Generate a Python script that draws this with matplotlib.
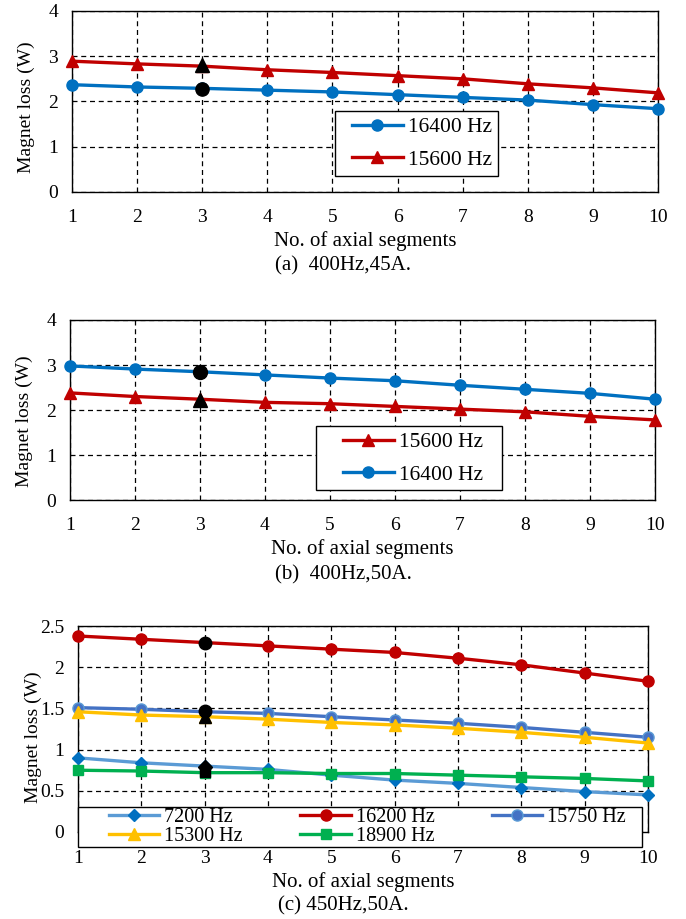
import matplotlib
matplotlib.use("Agg")
import matplotlib.pyplot as plt
from matplotlib.patches import Rectangle

plt.rcParams['font.family'] = ['Liberation Serif', 'DejaVu Serif']

segments = [1, 2, 3, 4, 5, 6, 7, 8, 9, 10]

# (a) 400Hz, 45A
a_16400 = [2.37, 2.32, 2.29, 2.25, 2.21, 2.15, 2.09, 2.03, 1.93, 1.84]
a_15600 = [2.89, 2.83, 2.78, 2.70, 2.64, 2.57, 2.50, 2.39, 2.30, 2.19]
a_black_tri = 2.80
a_black_circ = 2.28

# (b) 400Hz, 50A
b_16400 = [2.98, 2.91, 2.85, 2.78, 2.71, 2.65, 2.55, 2.46, 2.37, 2.24]
b_15600 = [2.38, 2.30, 2.24, 2.17, 2.14, 2.08, 2.02, 1.96, 1.86, 1.78]
b_black_circ = 2.85
b_black_tri = 2.23

# (c) 450Hz, 50A
c_7200 = [0.90, 0.84, 0.80, 0.76, 0.69, 0.63, 0.59, 0.54, 0.49, 0.45]
c_16200 = [2.38, 2.34, 2.30, 2.26, 2.22, 2.18, 2.11, 2.03, 1.93, 1.83]
c_15750 = [1.51, 1.49, 1.46, 1.44, 1.40, 1.36, 1.32, 1.27, 1.21, 1.15]
c_15300 = [1.46, 1.42, 1.40, 1.37, 1.33, 1.30, 1.26, 1.21, 1.15, 1.08]
c_18900 = [0.75, 0.74, 0.72, 0.72, 0.71, 0.71, 0.69, 0.67, 0.65, 0.62]
c_black_circ1 = 2.30
c_black_circ2 = 1.47
c_black_tri = 1.40
c_black_diam = 0.79
c_black_sq = 0.73

captions = ['(a)  400Hz,45A.', '(b)  400Hz,50A.', '(c) 450Hz,50A.']
xlabel = 'No. of axial segments'
ylabel = 'Magnet loss (W)'

RED = '#C00000'
BLUE = '#0070C0'
LBLUE = '#5B9BD5'
MBLUE = '#4472C4'
YELLOW = '#FFC000'
GREEN = '#00B050'

fig = plt.figure(figsize=(6.86, 9.19), dpi=100)


def style(ax, ymax, yticks, yticklabels, ylab_y):
    ax.set_xlim(1, 10)
    ax.set_ylim(0, ymax)
    ax.set_xticks(segments)
    ax.set_yticks(yticks)
    ax.set_yticklabels(yticklabels)
    ax.grid(True, color='black', linestyle=(0, (4, 3)), linewidth=0.9)
    ax.tick_params(axis='both', length=0, labelsize=14)
    ax.tick_params(axis='x', pad=12)
    ax.tick_params(axis='y', pad=10)
    for s in ax.spines.values():
        s.set_linewidth(1.0)
        s.set_color('black')
    ax.set_xlabel(xlabel, fontsize=15, labelpad=4)
    ax.set_ylabel(ylabel, fontsize=14)
    ax.yaxis.set_label_coords(-0.064, ylab_y)


def legend_box(ax, handles, x, y, rect, fontsize, ncol=1, labelspacing=0.4,
               columnspacing=2.0, handlelength=2.35):
    r = Rectangle((rect[0], rect[1]), rect[2], rect[3], transform=ax.transAxes,
                  facecolor='white', edgecolor='black', linewidth=1.0,
                  clip_on=False, zorder=5)
    ax.add_patch(r)
    leg = ax.legend(handles=handles, loc='center left', bbox_to_anchor=(x, y),
                    ncol=ncol, fontsize=fontsize, frameon=False,
                    handlelength=handlelength, handletextpad=0.25,
                    borderpad=0, borderaxespad=0, labelspacing=labelspacing,
                    columnspacing=columnspacing)
    leg.set_zorder(6)
    return leg


lw = 2.4
ms = 8

# Panel (a)
ax1 = fig.add_axes([0.105, 0.7911, 0.8542, 0.197])
l1, = ax1.plot(segments, a_16400, color=BLUE, lw=lw, marker='o', ms=ms, clip_on=False, zorder=3, label='16400 Hz')
l2, = ax1.plot(segments, a_15600, color=RED, lw=lw, marker='^', ms=ms + 1, clip_on=False, zorder=3, label='15600 Hz')
ax1.plot([3], [a_black_tri], marker='^', color='black', ms=10, ls='none', zorder=4)
ax1.plot([3], [a_black_circ], marker='o', color='black', ms=9.5, ls='none', zorder=4)
style(ax1, 4, [0, 1, 2, 3, 4], ['0', '1', '2', '3', '4'], 0.467)
legend_box(ax1, [l1, l2], 0.478, 0.268, (0.4488, 0.0884, 0.278, 0.359), 15.5, labelspacing=0.58)

# Panel (b)
ax2 = fig.add_axes([0.102, 0.4559, 0.8528, 0.1959])
m1, = ax2.plot(segments, b_15600, color=RED, lw=lw, marker='^', ms=ms + 1, clip_on=False, zorder=3, label='15600 Hz')
m2, = ax2.plot(segments, b_16400, color=BLUE, lw=lw, marker='o', ms=ms, clip_on=False, zorder=3, label='16400 Hz')
ax2.plot([3], [b_black_circ], marker='o', color='black', ms=10, ls='none', zorder=4)
ax2.plot([3], [b_black_tri], marker='^', color='black', ms=10, ls='none', zorder=4)
style(ax2, 4, [0, 1, 2, 3, 4], ['0', '1', '2', '3', '4'], 0.44)
legend_box(ax2, [m1, m2], 0.4667, 0.2306, (0.4205, 0.0556, 0.318, 0.356), 15.5, labelspacing=0.58)

# Panel (c)
ax3 = fig.add_axes([0.1137, 0.0947, 0.8309, 0.224])
n1, = ax3.plot(segments, c_7200, color=LBLUE, lw=lw, marker='D', ms=6.5, mfc=BLUE, mec=BLUE, clip_on=False, zorder=3, label='7200 Hz')
n2, = ax3.plot(segments, c_16200, color=RED, lw=lw, marker='o', ms=ms, clip_on=False, zorder=3, label='16200 Hz')
n3, = ax3.plot(segments, c_15750, color=MBLUE, lw=lw, marker='o', ms=ms, mfc=MBLUE, mec=LBLUE, clip_on=False, zorder=3, label='15750 Hz')
n4, = ax3.plot(segments, c_15300, color=YELLOW, lw=lw, marker='^', ms=ms + 1, clip_on=False, zorder=3, label='15300 Hz')
n5, = ax3.plot(segments, c_18900, color=GREEN, lw=lw, marker='s', ms=7, clip_on=False, zorder=3, label='18900 Hz')
ax3.plot([3], [c_black_circ1], marker='o', color='black', ms=9, ls='none', zorder=4)
ax3.plot([3], [c_black_circ2], marker='o', color='black', ms=9, ls='none', zorder=4)
ax3.plot([3], [c_black_tri], marker='^', color='black', ms=9, ls='none', zorder=4)
ax3.plot([3], [c_black_diam], marker='D', color='black', ms=7, ls='none', zorder=4)
ax3.plot([3], [c_black_sq], marker='s', color='black', ms=7, ls='none', zorder=4)
style(ax3, 2.5, [0, 0.5, 1, 1.5, 2, 2.5], ['0', '0.5', '1', '1.5', '2', '2.5'], 0.46)
ax3.tick_params(axis='x', pad=13)
legend_box(ax3, [n1, n4, n2, n5, n3], 0.0544, 0.0243, (0.0, -0.0728, 0.9895, 0.194),
           14.5, ncol=3, labelspacing=0.0, columnspacing=2.85, handlelength=2.5)

# captions
fig.text(0.5, 1 - 266 / 919, captions[0], ha='center', va='center', fontsize=15)
fig.text(0.5, 1 - 575 / 919, captions[1], ha='center', va='center', fontsize=15)
fig.text(0.5, 1 - 906 / 919, captions[2], ha='center', va='center', fontsize=15)

fig.savefig('out.png', dpi=100)
